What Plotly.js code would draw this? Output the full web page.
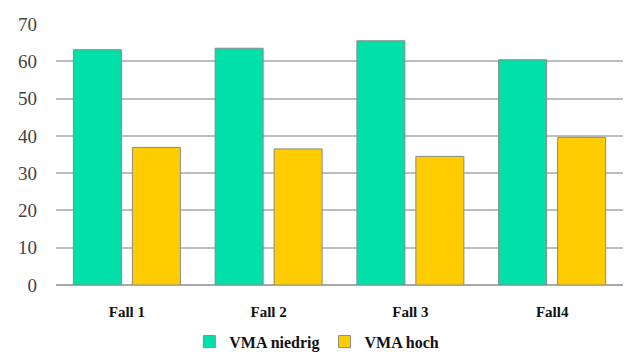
<!DOCTYPE html>
<html><head><meta charset="utf-8">
<script src="https://cdn.plot.ly/plotly-3.0.1.min.js"></script>
<style>html,body{margin:0;padding:0;background:#fff}#c{width:628px;height:354px}</style>
</head><body><div id="c"></div>
<script>
var categories = ["Fall 1", "Fall 2", "Fall 3", "Fall4"];
var vmaNiedrig = [63.1, 63.5, 65.5, 60.4];
var vmaHoch = [36.9, 36.5, 34.5, 39.6];
var yTicks = [0, 10, 20, 30, 40, 50, 60, 70];

var data = [
  {type: "bar", name: "VMA niedrig", x: categories, y: vmaNiedrig,
   marker: {color: "#00E0A8", line: {color: "#8a8a8a", width: 1}}},
  {type: "bar", name: "VMA hoch", x: categories, y: vmaHoch,
   marker: {color: "#FFCC00", line: {color: "#8a8a8a", width: 1}}}
];
var serif = "'Liberation Serif', 'DejaVu Serif', serif";
var layout = {
  width: 628, height: 354,
  margin: {l: 56, r: 5, t: 24, b: 69, autoexpand: false},
  paper_bgcolor: "#fff", plot_bgcolor: "#fff",
  barmode: "group", bargap: 0.168, bargroupgap: 0.186,
  font: {family: serif, color: "#333"},
  xaxis: {tickfont: {family: serif, size: 15, color: "#111", weight: "bold"}, showline: false, ticks: "", ticklabelstandoff: 16},
  yaxis: {range: [0, 70], tickvals: yTicks, tickfont: {family: serif, size: 19, color: "#444"},
          showgrid: true, gridcolor: "#bdbdbd", gridwidth: 1.5, zeroline: true, zerolinecolor: "#a8a8a8", zerolinewidth: 1.5,
          ticks: "", ticklabelstandoff: 18},
  showlegend: true,
  legend: {orientation: "h", x: 0.46, xanchor: "center", y: -0.152, yanchor: "top",
           font: {family: serif, size: 16, color: "#111", weight: "bold"}, itemwidth: 30, tracegroupgap: 0}
};
Plotly.newPlot("c", data, layout, {displayModeBar: false});
</script></body></html>
